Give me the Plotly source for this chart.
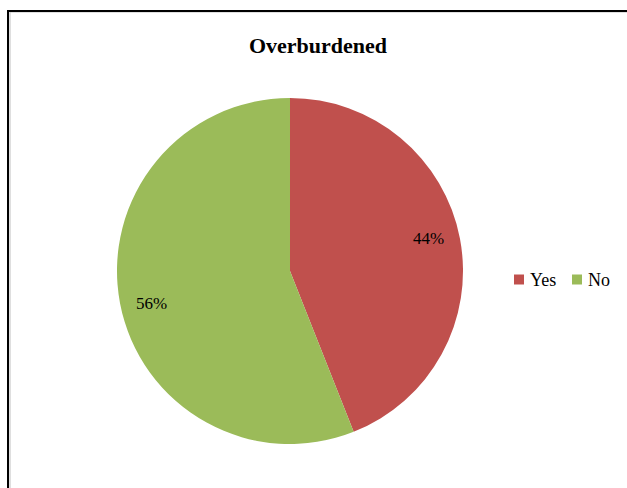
import math
import plotly.graph_objects as go

# Survey answers: share of respondents who feel overburdened
answers = ["Yes", "No"]
shares = [44, 56]
slice_colors = ["#C0504D", "#9BBB59"]

W, H = 627, 488
FONT = "Liberation Serif"

# pie geometry in pixels
cx, cy, R = 290, 271, 173
label_r = 0.82 * R

fig = go.Figure(
    go.Pie(
        labels=answers,
        values=shares,
        sort=False,
        direction="clockwise",
        rotation=0,
        marker=dict(colors=slice_colors, line=dict(width=0)),
        textinfo="none",
        hoverinfo="label+percent",
        showlegend=False,
        domain=dict(x=[(cx - R) / W, (cx + R) / W], y=[1 - (cy + R) / H, 1 - (cy - R) / H]),
    )
)

annotations = []
shapes = []

# percentage labels placed along each slice's mid angle (clockwise from 12 o'clock)
total = sum(shares)
start = 0.0
for v in shares:
    mid = (start + v / 2) / total * 2 * math.pi - math.radians(2.5)
    start += v
    px = cx + label_r * math.sin(mid)
    py = cy - label_r * math.cos(mid)
    annotations.append(
        dict(
            x=px / W, y=1 - py / H, xref="paper", yref="paper",
            text=f"{round(v / total * 100)}%", showarrow=False,
            xanchor="center", yanchor="middle",
            font=dict(family=FONT, size=17, color="#000000"),
        )
    )

# legend: colour square followed by the answer text, in one row
lx, ly, sq = 514, 279.5, 10
step = 58
for i, (name, col) in enumerate(zip(answers, slice_colors)):
    x0 = lx + i * step
    shapes.append(
        dict(
            type="rect", xref="paper", yref="paper",
            x0=x0 / W, x1=(x0 + sq) / W,
            y0=1 - (ly + sq / 2) / H, y1=1 - (ly - sq / 2) / H,
            fillcolor=col, line=dict(width=0),
        )
    )
    annotations.append(
        dict(
            x=(x0 + sq + 4) / W, y=1 - ly / H, xref="paper", yref="paper",
            text=name, showarrow=False, xanchor="left", yanchor="middle",
            font=dict(family=FONT, size=18, color="#000000"),
        )
    )

# chart frame (runs off the right and bottom edges)
shapes += [
    dict(type="rect", xref="paper", yref="paper",
         x0=10 / W, x1=1.2, y0=-0.2, y1=1 - 12 / H,
         line=dict(color="#BFBFBF", width=1)),
    dict(type="rect", xref="paper", yref="paper",
         x0=8 / W, x1=1.2, y0=-0.2, y1=1 - 11 / H,
         line=dict(color="#000000", width=2)),
]

fig.update_layout(
    width=W,
    height=H,
    margin=dict(l=0, r=0, t=0, b=0, autoexpand=False),
    paper_bgcolor="#FFFFFF",
    plot_bgcolor="#FFFFFF",
    showlegend=False,
    title=dict(
        text="<b>Overburdened</b>",
        x=318 / W,
        xanchor="center",
        y=1 - 45 / H,
        yanchor="middle",
        font=dict(family=FONT, size=22, color="#000000"),
    ),
    annotations=annotations,
    shapes=shapes,
)

fig.write_html("out.html")
